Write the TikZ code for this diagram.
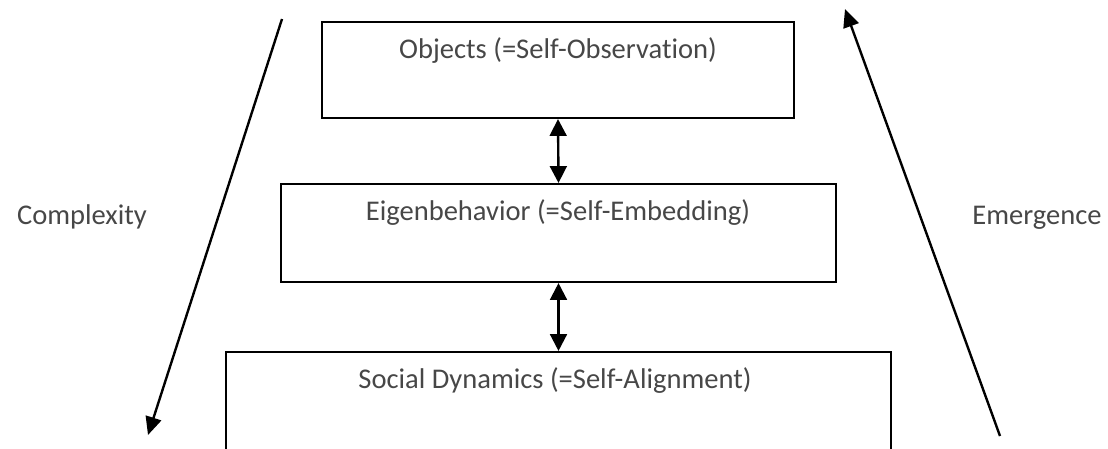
\documentclass[tikz,border=0pt]{standalone}
\usepackage{fontspec}
\setmainfont{Carlito}[Ligatures=NoCommon]
\usetikzlibrary{arrows.meta}

\tikzset{
  layer/.style={draw, line width=1.5pt, minimum width=#1, inner sep=0pt},
  caption/.style={anchor=base, text=black!72, font=\fontsize{20.3}{24}\selectfont},
  tip/.style={line width=1.7pt, -{Triangle[length=0.45cm,width=0.4cm]}},
  dbl/.style={line width=1.7pt, {Triangle[length=0.42cm,width=0.42cm]}-{Triangle[length=0.42cm,width=0.42cm]}}
}

\begin{document}
\begin{tikzpicture}[x=0.025cm, y=-0.025cm]
        \useasboundingbox (0,0) rectangle (1108,448);
        % the three layers
        \node[layer=11.8cm, minimum height=2.4cm] (obj) at (558,70) {};
        \node[layer=13.875cm, minimum height=2.45cm] (eig) at (558.5,233) {};
        \node[layer=16.625cm, minimum height=2.5cm] (soc) at (558.5,402) {};
        \node[caption] (objtxt) at (558,58) {Objects (=Self-Observation)};
        \node[caption] (eigtxt) at (558,220) {Eigenbehavior (=Self-Embedding)};
        \node[caption] (soctxt) at (555,388) {Social Dynamics (=Self-Alignment)};
        \draw[dbl] (obj.south) -- (eig.north);
        \draw[dbl] (eig.south) -- (soc.north);
        % side arrows
        \coordinate (cxtop) at (282,19);
        \coordinate (cxbot) at (148,435);
        \coordinate (embot) at (1000,436);
        \coordinate (emtop) at (845,9);
        \draw[tip] (cxtop) -- (cxbot);
        \draw[tip] (embot) -- (emtop);
        \node[caption] (cx) at (82,224) {Complexity};
        \node[caption] (em) at (1037,224) {Emergence};
    \end{tikzpicture}
\end{document}
